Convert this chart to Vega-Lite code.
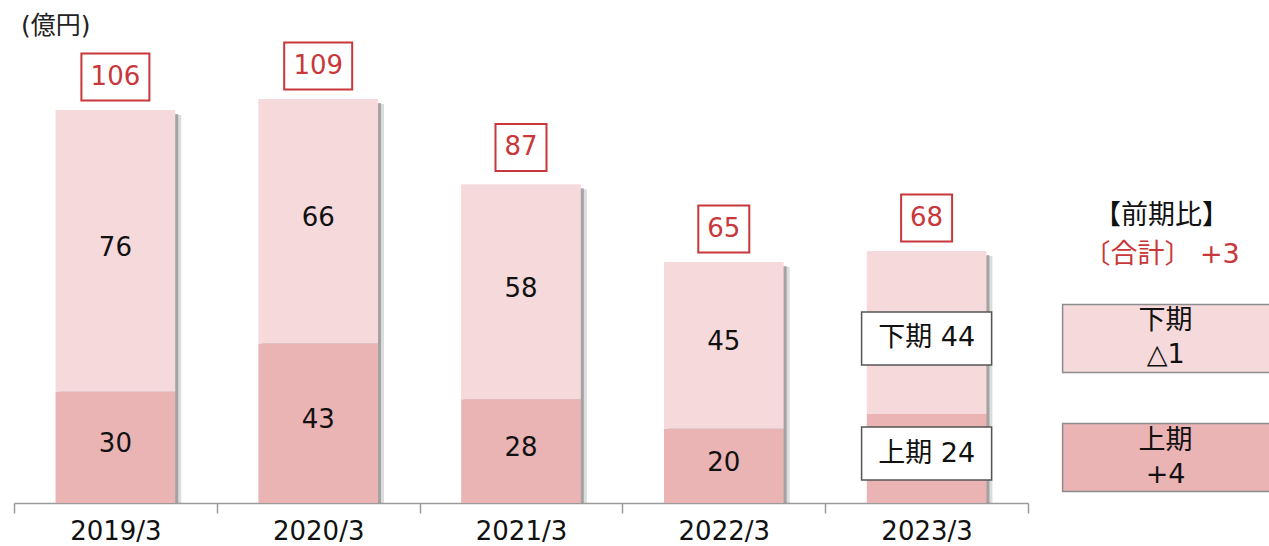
{
  "$schema": "https://vega.github.io/schema/vega-lite/v6.json",
  "width": 1014,
  "height": 463,
  "autosize": {"type": "none"},
  "padding": {"left": 14, "top": 40, "right": 241, "bottom": 43},
  "background": "white",
  "title": {"text": "(億円)", "anchor": "start", "frame": "group", "fontSize": 25, "font": "DejaVu Sans, Noto Sans CJK JP", "fontWeight": "normal", "color": "#222222", "dx": 7, "offset": -1},
  "config": {"view": {"stroke": null}, "font": "DejaVu Sans"},
  "datasets": {
    "halves": [
      {"year": "2019/3", "half": "上期", "value": 30},
      {"year": "2019/3", "half": "下期", "value": 76},
      {"year": "2020/3", "half": "上期", "value": 43},
      {"year": "2020/3", "half": "下期", "value": 66},
      {"year": "2021/3", "half": "上期", "value": 28},
      {"year": "2021/3", "half": "下期", "value": 58},
      {"year": "2022/3", "half": "上期", "value": 20},
      {"year": "2022/3", "half": "下期", "value": 45},
      {"year": "2023/3", "half": "上期", "value": 24, "tag": "上期 24", "note": "上期\n+4"},
      {"year": "2023/3", "half": "下期", "value": 44, "tag": "下期 44", "note": "下期\n△1"}
    ],
    "totals": [
      {"year": "2019/3", "total": 106},
      {"year": "2020/3", "total": 109},
      {"year": "2021/3", "total": 87},
      {"year": "2022/3", "total": 65},
      {"year": "2023/3", "total": 68}
    ]
  },
  "data": {"name": "halves"},
  "encoding": {
    "x": {
      "field": "year", "type": "nominal", "sort": null,
      "scale": {"paddingInner": 0, "paddingOuter": 0},
      "axis": {
        "title": null, "labelAngle": 0, "domainColor": "#9a9a9a", "domainWidth": 1.5,
        "tickColor": "#9a9a9a", "tickWidth": 1.5, "tickSize": 10, "tickBand": "extent",
        "labelFontSize": 26, "labelColor": "#111111", "labelPadding": 5, "labelFont": "DejaVu Sans"
      }
    }
  },
  "layer": [
    {
      "mark": {"type": "bar", "color": "#8a8a8a", "opacity": 0.3, "width": {"band": 0.59}, "xOffset": 6, "yOffset": 5, "clip": true},
      "encoding": {"y": {"aggregate": "sum", "field": "value", "type": "quantitative", "scale": {"domain": [0, 124.9], "nice": false, "zero": true}, "axis": null}}
    },
    {
      "mark": {"type": "bar", "color": "#6a6a6a", "opacity": 0.5, "width": {"band": 0.59}, "xOffset": 3, "yOffset": 4, "clip": true},
      "encoding": {"y": {"aggregate": "sum", "field": "value", "type": "quantitative"}}
    },
    {
      "mark": {"type": "bar", "width": {"band": 0.59}},
      "encoding": {
        "y": {"field": "value", "type": "quantitative", "stack": "zero"},
        "color": {"field": "half", "type": "nominal", "scale": {"domain": ["上期", "下期"], "range": ["#EAB3B4", "#F5D9DB"]}, "legend": null},
        "order": {"field": "half", "sort": "ascending"}
      }
    },
    {
      "transform": [
        {"stack": "value", "groupby": ["year"], "sort": [{"field": "half"}], "as": ["v0", "v1"]},
        {"calculate": "(datum.v0 + datum.v1) / 2", "as": "mid"},
        {"filter": "datum.year !== '2023/3'"}
      ],
      "mark": {"type": "text", "fontSize": 26, "color": "#111111", "baseline": "middle", "dy": -3},
      "encoding": {"y": {"field": "mid", "type": "quantitative"}, "text": {"field": "value"}}
    },
    {
      "transform": [
        {"stack": "value", "groupby": ["year"], "sort": [{"field": "half"}], "as": ["v0", "v1"]},
        {"calculate": "(datum.v0 + datum.v1) / 2", "as": "mid"},
        {"filter": "datum.year === '2023/3'"}
      ],
      "layer": [
        {
          "mark": {"type": "point", "shape": "M-1,-0.408H1V0.408H-1Z", "size": 16900, "filled": true, "fill": "white", "stroke": "#555555", "strokeWidth": 1.5, "opacity": 1, "yOffset": {"expr": "datum.half === '下期' ? 6 : -5"}},
          "encoding": {"y": {"field": "mid", "type": "quantitative"}}
        },
        {
          "mark": {"type": "text", "fontSize": 27, "color": "#111111", "baseline": "middle", "font": "DejaVu Sans, Noto Sans CJK JP", "yOffset": {"expr": "datum.half === '下期' ? 6 : -5"}},
          "encoding": {"y": {"field": "mid", "type": "quantitative"}, "text": {"field": "tag"}}
        },
        {
          "mark": {"type": "point", "shape": "M-1,-0.296H1V0.296H-1Z", "size": 52900, "filled": true, "stroke": "#8c8c8c", "strokeWidth": 1.5, "opacity": 1, "xOffset": 251, "yOffset": {"expr": "datum.half === '下期' ? 6 : -1"}},
          "encoding": {
            "y": {"field": "mid", "type": "quantitative"},
            "color": {"field": "half", "type": "nominal", "legend": null}
          }
        },
        {
          "mark": {"type": "text", "fontSize": 27, "color": "#111111", "baseline": "middle", "lineBreak": "\n", "lineHeight": 34, "xOffset": 239, "dy": -17, "font": "DejaVu Sans, Noto Sans CJK JP", "yOffset": {"expr": "datum.half === '下期' ? 6 : -1"}},
          "encoding": {"y": {"field": "mid", "type": "quantitative"}, "text": {"field": "note"}}
        }
      ]
    },
    {
      "data": {"name": "totals"},
      "layer": [
        {
          "mark": {"type": "point", "filled": false, "stroke": "#C8373A", "strokeWidth": 2, "opacity": 1, "size": 4624, "yOffset": -33},
          "encoding": {
            "y": {"field": "total", "type": "quantitative"},
            "shape": {"condition": {"test": "datum.total >= 100", "value": "M-1,-0.691H1V0.691H-1Z"}, "value": "M-0.75,-0.691H0.75V0.691H-0.75Z"}
          }
        },
        {
          "mark": {"type": "text", "fontSize": 26, "color": "#C8373A", "baseline": "middle", "yOffset": -33},
          "encoding": {"y": {"field": "total", "type": "quantitative"}, "text": {"field": "total"}}
        }
      ]
    },
    {
      "data": {"values": [{"year": "2023/3", "total": 68, "label": "【前期比】"}]},
      "mark": {"type": "text", "fontSize": 27, "color": "#111111", "baseline": "middle", "font": "Noto Sans CJK JP", "xOffset": 235, "yOffset": -35},
      "encoding": {"y": {"field": "total", "type": "quantitative"}, "text": {"field": "label"}}
    },
    {
      "data": {"values": [{"year": "2023/3", "total": 68, "label": "〔合計〕 +3"}]},
      "mark": {"type": "text", "fontSize": 27, "color": "#C8373A", "baseline": "middle", "font": "DejaVu Sans, Noto Sans CJK JP", "xOffset": 235, "yOffset": 4},
      "encoding": {"y": {"field": "total", "type": "quantitative"}, "text": {"field": "label"}}
    }
  ]
}
